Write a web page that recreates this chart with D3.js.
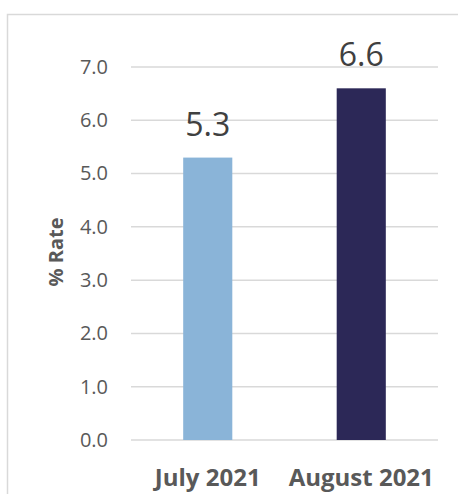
<!DOCTYPE html>
<html>
<head>
<meta charset="utf-8">
<script src="https://cdn.jsdelivr.net/npm/d3@7"></script>
<style>
  body { margin: 0; background: #fff; }
  svg { display: block; font-family: "Open Sans", sans-serif; }
</style>
</head>
<body>
<div id="chart"></div>
<script>
// data
var categories = ["July 2021", "August 2021"];
var values = [5.3, 6.6];
var colors = ["#8ab4d8", "#2c2857"];
var yTicks = [0, 1, 2, 3, 4, 5, 6, 7];

var W = 458, H = 494;
var svg = d3.select("#chart").append("svg").attr("width", W).attr("height", H);

// outer frame (runs off right/bottom edges)
svg.append("rect")
  .attr("x", 7.5).attr("y", 14.5)
  .attr("width", 480).attr("height", 500)
  .attr("fill", "none").attr("stroke", "#d9d9d9").attr("stroke-width", 1.5);

var x = d3.scaleBand().domain(categories).range([131, 438]).paddingInner(0.68).paddingOuter(0.34);
var y = d3.scaleLinear().domain([0, 7]).range([440, 67]);

// gridlines
svg.append("g").selectAll("line").data(yTicks).join("line")
  .attr("x1", 131).attr("x2", 438)
  .attr("y1", function(d) { return y(d); }).attr("y2", function(d) { return y(d); })
  .attr("stroke", "#d9d9d9").attr("stroke-width", 1.5);

// y axis labels
var yAxis = svg.append("g").attr("transform", "translate(118,0)")
  .call(d3.axisLeft(y).tickValues(yTicks).tickFormat(d3.format(".1f")).tickSize(0).tickPadding(10));
yAxis.select(".domain").remove();
yAxis.selectAll("text").attr("font-size", 20).attr("fill", "#595959").attr("font-family", "Open Sans, sans-serif");

// bars
svg.append("g").selectAll("rect").data(values).join("rect")
  .attr("x", function(d, i) { return x(categories[i]); })
  .attr("width", x.bandwidth())
  .attr("y", function(d) { return y(d); })
  .attr("height", function(d) { return y(0) - y(d); })
  .attr("fill", function(d, i) { return colors[i]; });

// value labels
svg.append("g").selectAll("text").data(values).join("text")
  .attr("x", function(d, i) { return x(categories[i]) + x.bandwidth() / 2; })
  .attr("y", function(d) { return y(d) - 22; })
  .attr("text-anchor", "middle")
  .attr("font-size", 32)
  .attr("fill", "#404040")
  .text(function(d) { return d3.format(".1f")(d); });

// x axis labels
svg.append("g").selectAll("text").data(categories).join("text")
  .attr("x", function(d) { return x(d) + x.bandwidth() / 2; })
  .attr("y", 486)
  .attr("text-anchor", "middle")
  .attr("font-size", 24)
  .attr("font-weight", "bold")
  .attr("fill", "#595959")
  .text(function(d) { return d; });

// y title
svg.append("text")
  .attr("transform", "translate(63,252) rotate(-90)")
  .attr("text-anchor", "middle")
  .attr("font-size", 20)
  .attr("font-weight", "bold")
  .attr("fill", "#595959")
  .text("% Rate");
</script>
</body>
</html>
